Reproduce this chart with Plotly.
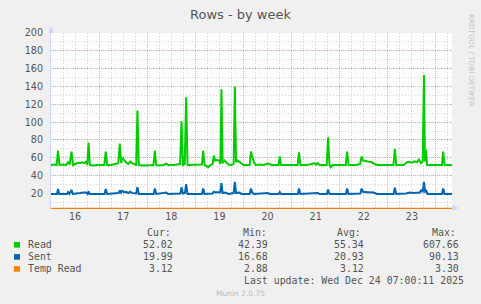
import plotly.graph_objects as go
import pandas as pd

# ---------------- data (hours after 2025-12-16 00:00, values) ----------------
read_hours = [0, 1.5, 2.8, 3.5, 4.2, 6, 7.5, 8.5, 9.3, 10.2, 11, 12.5, 13.5, 14.5, 15.5, 16.5,
              17.5, 18.1, 18.7, 19.4, 21, 23, 25, 26.6, 27.3, 28, 30, 32, 33.6, 34.3, 35, 35.5,
              36.5, 37.5, 38.5, 39.5, 40.5, 41.5, 42.5, 43.1, 43.8, 46, 48, 50, 51.1, 51.8,
              52.5, 54, 56, 57.6, 58.5, 61, 63, 64.4, 65.1, 65.8, 66.7, 67.4, 68.1, 70, 72, 74,
              75.3, 75.9, 76.6, 78.4, 79.5, 80.6, 81.2, 81.8, 83, 84, 84.5, 85.0, 85.6, 86.5,
              87.5, 88.5, 90, 91.1, 91.7, 92.3, 93, 94.5, 96, 98, 99.1, 99.7, 100.4, 101.2, 102,
              104, 106, 108.3, 110, 112, 113.5, 114.1, 114.7, 117, 119, 121, 123, 123.7, 124.4,
              127, 129, 131.6, 132.3, 133, 134, 137.5, 138.2, 138.9, 139.5, 140.5, 143, 145,
              147, 147.7, 148.4, 150, 152, 154.2, 154.9, 155.6, 157, 158.5, 160, 161.5, 163,
              166, 168, 170.8, 171.5, 172.2, 174, 176, 177.5, 178.5, 180, 181.5, 182.5, 183.5,
              184.5, 185.4, 186.0, 186.5, 187.0, 187.6, 190, 192, 195, 195.6, 196.3, 200]
read_values = [52, 52.5, 52, 68, 52, 52.5, 52, 55, 52.5, 67, 52, 53, 54.5, 54, 55, 54,
               55.5, 52, 77, 52, 51.5, 52, 52, 52, 67, 52, 52, 53, 54, 76, 54, 60,
               57, 55, 53, 56, 54, 53, 52, 113, 52, 51.5, 52, 52, 52, 68,
               52, 51.5, 52, 53.5, 52, 52, 52.5, 53, 101, 52, 53, 128, 52, 52, 52.5, 52,
               52.5, 68, 52, 49.5, 52, 53, 62.5, 57, 57.5, 56.5, 53, 137, 54, 57,
               55, 52.5, 52, 53, 140, 55, 57, 54, 52, 52, 52, 67, 60, 55, 52,
               52.5, 52, 53.5, 52, 52, 52, 61.5, 52, 52, 52, 52.5, 52, 66, 52,
               52, 52.5, 54, 52.5, 54, 52, 52, 83, 52, 49.5, 52, 52, 52,
               52, 67, 52, 52, 52, 53, 61.5, 57, 56, 55.5, 55, 53, 52,
               52, 52, 52, 70, 52, 52, 52, 55, 55.5, 54.5, 56, 55, 58,
               54, 56, 153, 56, 69, 52, 52, 52, 52, 67, 52, 52]

sent_hours = [0, 3, 3.5, 4.1, 8, 8.5, 9.2, 10.2, 10.9, 13, 14.5, 16, 17.5, 18.2, 18.7, 19.3,
              26.7, 27.3, 28, 33.7, 34.3, 35, 35.5, 36.5, 37.5, 38.5, 39.5, 40.5, 42.5, 43.1,
              43.8, 51.2, 51.8, 52.5, 57.6, 58.3, 64.5, 65.1, 65.8, 66.8, 67.4, 68.1, 75.3,
              75.9, 76.6, 80.6, 81.2, 81.8, 84.4, 85.0, 85.6, 87, 88.5, 91.1, 91.7, 92.3, 94,
              95, 99.1, 99.7, 100.4, 101.2, 108.3, 109, 113.5, 114.1, 114.7, 123.1, 123.7,
              124.4, 131.6, 133, 134, 137.6, 138.2, 138.9, 147.1, 147.7, 148.4, 154.3, 154.9,
              155.6, 158, 161, 162.5, 170.9, 171.5, 172.2, 177, 179, 181, 182.5, 183.8, 184.6,
              185.4, 186.0, 186.6, 187.2, 187.8, 195, 195.6, 196.3, 200]
sent_values = [19.5, 19.5, 25, 19.5, 19.5, 21.5, 19.5, 24, 19.5, 20.5, 20.5, 21, 21, 19.5, 22.5, 19.5,
               19.5, 25, 19.5, 20.5, 23.5, 21, 23, 21.5, 22, 20.5, 22, 20.5, 20, 27,
               19.5, 19.5, 25.5, 19.5, 21, 19.5, 20, 27, 20, 20.5, 30.5, 19.5, 19.5,
               25.5, 19.5, 20, 22, 21.5, 21.5, 31.5, 20.5, 21, 19.5, 20.5, 33, 20.5, 21,
               19.5, 19.5, 25.5, 21, 19.5, 20.5, 19.5, 19.5, 21.5, 19.5, 19.5, 25.5,
               19.5, 20.5, 20.5, 19.5, 19.5, 24.5, 19.5, 19.5, 25.5, 19.5, 20, 25.5,
               22, 21.5, 21, 19.5, 19.5, 26.5, 19.5, 20, 21, 20.5, 21, 21, 23.5,
               21.5, 33, 22, 23, 19.5, 19.5, 25.5, 19.5, 19.5]

temp_hours = [0, 24, 48, 72, 96, 120, 144, 168, 192, 200]
temp_values = [3.12, 3.10, 3.14, 3.12, 3.11, 3.13, 3.12, 3.10, 3.12, 3.12]

series_names = ["Read", "Sent", "Temp Read"]
series_colors = ["#00CC00", "#0066B3", "#FF8000"]
legend_cur = ["52.02", "19.99", "3.12"]
legend_min = ["42.39", "16.68", "2.88"]
legend_avg = ["55.34", "20.93", "3.12"]
legend_max = ["607.66", "90.13", "3.30"]
day_labels = ["16", "17", "18", "19", "20", "21", "22", "23"]
y_ticks = [20, 40, 60, 80, 100, 120, 140, 160, 180, 200]

title_text = "Rows - by week"
last_update = "Last update: Wed Dec 24 07:00:11 2025"
# ---------------------------------------------------------------------------

base = pd.Timestamp("2025-12-16 00:00")


def to_time(hours):
    return [base + pd.Timedelta(hours=h) for h in hours]


x_start = base
x_end = base + pd.Timedelta(hours=200)
noons = [base + pd.Timedelta(days=i, hours=12) for i in range(len(day_labels))]
midnights = [base + pd.Timedelta(days=i) for i in range(1, 9)]
six_hours = [base + pd.Timedelta(hours=6 * i) for i in range(0, 34) if (6 * i) % 24 != 0]

W, H = 481, 304
L, R, T, B = 51, 29, 33, 95
pw = W - L - R
ph = H - T - B


def px(x):
    return (x - L) / pw


def py(y):
    return (H - B - y) / ph


FONT = "DejaVu Sans"
MONO = "DejaVu Sans Mono"
TXT = "#555555"

fig = go.Figure()
fig.add_trace(go.Scatter(x=to_time(read_hours), y=read_values, mode="lines",
                         line=dict(color=series_colors[0], width=2), name=series_names[0]))
fig.add_trace(go.Scatter(x=to_time(sent_hours), y=sent_values, mode="lines",
                         line=dict(color=series_colors[1], width=2), name=series_names[1]))
fig.add_trace(go.Scatter(x=to_time(temp_hours), y=temp_values, mode="lines", xaxis="x2",
                         line=dict(color=series_colors[2], width=1.8), name=series_names[2]))

grid_minor = "rgba(150,150,150,0.42)"
grid_major = "rgba(240,80,80,0.45)"

fig.update_layout(
    width=W, height=H,
    margin=dict(l=L, r=R, t=T, b=B, pad=0),
    paper_bgcolor="#F0F0F0", plot_bgcolor="#FFFFFF",
    showlegend=False,
    font=dict(family=FONT, color=TXT, size=10),
    xaxis=dict(
        type="date", range=[x_start, x_end],
        tickmode="array", tickvals=noons, ticktext=day_labels,
        showgrid=False, zeroline=False, showline=False, ticks="",
        tickfont=dict(family=FONT, size=9.6, color=TXT),
        minor=dict(tickmode="array", tickvals=six_hours, showgrid=True,
                   gridcolor=grid_minor, griddash="1px,2px", gridwidth=1, ticks=""),
    ),
    xaxis2=dict(
        type="date", range=[x_start, x_end], overlaying="x", anchor="y", matches="x",
        tickmode="array", tickvals=midnights, showticklabels=False,
        showgrid=True, gridcolor=grid_major, griddash="1px,1px", gridwidth=1,
        zeroline=False, showline=False, ticks="",
    ),
    yaxis=dict(
        range=[2.6, 200], tickmode="array", tickvals=y_ticks,
        showgrid=True, gridcolor=grid_major, griddash="1px,1px", gridwidth=1,
        zeroline=False, showline=True, linecolor="#CFD6F8", linewidth=1,
        ticks="", ticklabelstandoff=5,
        tickfont=dict(family=FONT, size=9.6, color=TXT),
        minor=dict(tick0=0, dtick=10, showgrid=True, gridcolor=grid_minor,
                   griddash="1px,2px", gridwidth=1, ticks=""),
    ),
)

ann = []
ann.append(dict(text=title_text, xref="paper", yref="paper", x=px(240), y=py(14),
                xanchor="center", yanchor="middle", showarrow=False,
                font=dict(family=FONT, size=13, color=TXT)))
ann.append(dict(text="RRDTOOL / TOBI OETIKER", xref="paper", yref="paper", x=px(471.5), y=py(60.5),
                xanchor="center", yanchor="middle", textangle=90, showarrow=False,
                font=dict(family=FONT, size=7.2, color="#C4C4C4")))

header_y = 232.3
row_y = [244.8, 256.9, 268.9]
for txt, x in zip(["Cur:", "Min:", "Avg:", "Max:"], [145.3, 240.7, 335.0, 430.0]):
    ann.append(dict(text=txt, xref="paper", yref="paper", x=px(x), y=py(header_y),
                    xanchor="left", yanchor="middle", showarrow=False,
                    font=dict(family=MONO, size=9.9, color=TXT)))
for i, name in enumerate(series_names):
    ann.append(dict(text=name, xref="paper", yref="paper", x=px(26.3), y=py(row_y[i]),
                    xanchor="left", yanchor="middle", showarrow=False,
                    font=dict(family=MONO, size=9.9, color=TXT)))
    for col, x in zip([legend_cur, legend_min, legend_avg, legend_max], [174.5, 270.3, 365.7, 460.7]):
        ann.append(dict(text=col[i], xref="paper", yref="paper", x=px(x), y=py(row_y[i]),
                        xanchor="right", yanchor="middle", showarrow=False,
                        font=dict(family=MONO, size=9.9, color=TXT)))
ann.append(dict(text=last_update, xref="paper", yref="paper", x=px(466.3), y=py(280.6),
                xanchor="right", yanchor="middle", showarrow=False,
                font=dict(family=MONO, size=9.9, color=TXT)))
ann.append(dict(text="Munin 2.0.75", xref="paper", yref="paper", x=px(240), y=py(293.5),
                xanchor="center", yanchor="middle", showarrow=False,
                font=dict(family=FONT, size=7.5, color="#BBBBBB")))
fig.update_layout(annotations=ann)

shapes = []
for i, c in enumerate(series_colors):
    shapes.append(dict(type="rect", xref="paper", yref="paper",
                       x0=px(14), x1=px(20), y0=py(row_y[i] + 2.8), y1=py(row_y[i] - 2.8),
                       fillcolor=c, line=dict(width=0)))
# axis arrows
shapes.append(dict(type="path", xref="paper", yref="paper",
                   path=f"M {px(48.2)} {py(33)} L {px(51.2)} {py(26)} L {px(54.2)} {py(33)} Z",
                   fillcolor="#CFD6F8", line=dict(width=0)))
shapes.append(dict(type="path", xref="paper", yref="paper",
                   path=f"M {px(452.5)} {py(205)} L {px(458.5)} {py(208)} L {px(452.5)} {py(211)} Z",
                   fillcolor="#CFD6F8", line=dict(width=0)))
fig.update_layout(shapes=shapes)

fig.write_html("out.html", config=dict(displayModeBar=False, responsive=False))
